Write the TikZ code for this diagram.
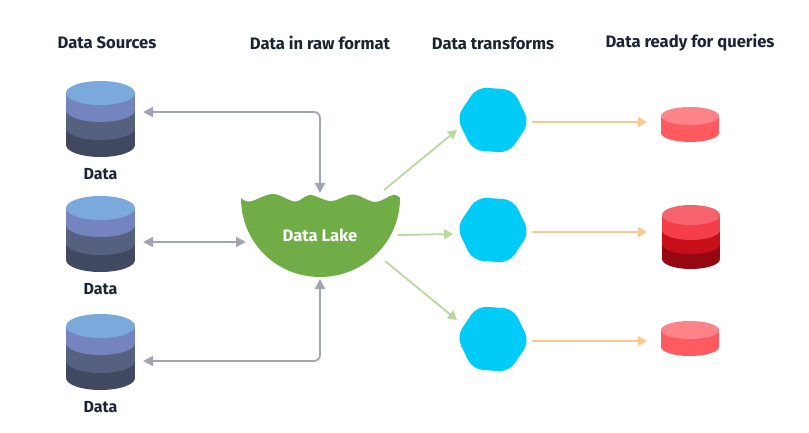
\documentclass[tikz,border=0pt]{standalone}
\usepackage{fontspec}
\setmainfont{Fira Sans}
\usetikzlibrary{arrows.meta,shapes.geometric}
\definecolor{inkdark}{HTML}{1B2433}
\definecolor{blueA}{HTML}{7BA9DB}
\definecolor{blueB}{HTML}{7484BF}
\definecolor{blueC}{HTML}{56617F}
\definecolor{blueD}{HTML}{414960}
\definecolor{lakegreen}{HTML}{70AD47}
\definecolor{hexblue}{HTML}{00CCF7}
\definecolor{redA}{HTML}{F6636C}
\definecolor{redB}{HTML}{F53E4A}
\definecolor{redC}{HTML}{C70F19}
\definecolor{redD}{HTML}{950812}
\definecolor{pinkA}{HTML}{FC8388}
\definecolor{pinkB}{HTML}{FF5A60}
\definecolor{arrowgray}{HTML}{A0A4B3}
\definecolor{arrowgreen}{HTML}{B9D7A0}
\definecolor{arroworange}{HTML}{FCC88F}
\tikzset{
  title/.style={font=\bfseries\fontsize{16.6}{18}\selectfont, text=inkdark},
  dblabel/.style={font=\bfseries\fontsize{16}{18}\selectfont, text=inkdark},
  hexa/.style={regular polygon, regular polygon sides=6, shape border rotate=-4,
    minimum size=73pt, inner sep=0pt, fill=hexblue, rounded corners=10pt},
  grayarrow/.style={draw=arrowgray, line width=1.8pt, rounded corners=6pt,
    {Triangle[length=10pt,width=10pt]}-{Triangle[length=10pt,width=10pt]}},
  greenarrow/.style={draw=arrowgreen, line width=1.8pt, -{Triangle[length=9pt,width=10pt]}},
  orangearrow/.style={draw=arroworange, line width=1.8pt, -{Triangle[length=9pt,width=10pt]}}
}
% one layer: x, top centre y, bottom centre y, rx, ry, colour
\newcommand{\dblayer}[6]{
  \fill[#6] (#1,#3) ellipse [x radius=#4pt, y radius=#5pt];
  \fill[#6] (#1-#4,#2) rectangle (#1+#4,#3);
}
\newcommand{\bluestack}[2]{
  \dblayer{#1}{#2+35}{#2+52}{34.5}{12}{blueD}
  \dblayer{#1}{#2+18}{#2+35}{34.5}{12}{blueC}
  \dblayer{#1}{#2}{#2+17}{34.5}{12}{blueB}
  \fill[blueA] (#1,#2) ellipse [x radius=34.5pt, y radius=12pt];
}
\newcommand{\pinkdisc}[2]{
  \dblayer{#1}{#2}{#2+17}{29}{9}{pinkB}
  \fill[pinkA] (#1,#2) ellipse [x radius=29pt, y radius=9pt];
}
\begin{document}
\begin{tikzpicture}[x=1pt, y=-1pt]
  \useasboundingbox (0,0) rectangle (809,433);

  \node[title] (head1) at (107,43) {Data Sources};
  \node[title] (head2) at (320,43) {Data in raw format};
  \node[title] (head3) at (493,43) {Data transforms};
  \node[title] (head4) at (690,43) {Data ready for queries};

  % sources
  \bluestack{100.5}{93}
  \bluestack{100.5}{208}
  \bluestack{100.5}{326}
  \node[dblabel] (data1) at (100.5,174) {Data};
  \node[dblabel] (data2) at (100.5,289) {Data};
  \node[dblabel] (data3) at (100.5,407) {Data};

  % lake
  \fill[lakegreen] plot[smooth, tension=0.6] coordinates {(241,198) (250,201.5) (273,194) (295,201.5) (310,195) (331,201) (353,194.5) (375,202) (393,195) (400,198)}
    .. controls (400,242) and (364,277) .. (320,277)
    .. controls (276,277) and (241,242) .. (241,198) -- cycle;
  \node[font=\bfseries\fontsize{16.6}{18}\selectfont, text=white] (lake) at (320,235) {Data Lake};

  % transforms
  \node[hexa] (hex1) at (493,120) {};
  \node[hexa] (hex2) at (493,230) {};
  \node[hexa] (hex3) at (493,339) {};

  % results
  \pinkdisc{690}{116}
  \dblayer{691}{244}{259}{29}{10}{redD}
  \dblayer{691}{230}{244}{29}{10}{redC}
  \dblayer{691}{215}{230}{29}{10}{redB}
  \fill[redA] (691,215) ellipse [x radius=29pt, y radius=10pt];
  \pinkdisc{690}{330}

  % arrow ends
  \coordinate (src1) at (143,112);
  \coordinate (src2) at (143,242);
  \coordinate (src3) at (143,361);
  \coordinate (laketop) at (320,193);
  \coordinate (lakeleft) at (246,242);
  \coordinate (lakebot) at (320,279);
  \coordinate (outA) at (384,190);
  \coordinate (outB) at (398,235);
  \coordinate (outC) at (385,261);
  \coordinate (inA) at (457,130);
  \coordinate (inB) at (453,234);
  \coordinate (inC) at (457,320);
  \coordinate (hexout1) at (532,122);
  \coordinate (hexout2) at (532,232);
  \coordinate (hexout3) at (532,341);
  \coordinate (disc1) at (647,122);
  \coordinate (disc2) at (647,232);
  \coordinate (disc3) at (647,341);

  \draw[grayarrow] (src1) -| (laketop);
  \draw[grayarrow] (src2) -- (lakeleft);
  \draw[grayarrow] (src3) -| (lakebot);
  \draw[greenarrow] (outA) -- (inA);
  \draw[greenarrow] (outB) -- (inB);
  \draw[greenarrow] (outC) -- (inC);
  \draw[orangearrow] (hexout1) -- (disc1);
  \draw[orangearrow] (hexout2) -- (disc2);
  \draw[orangearrow] (hexout3) -- (disc3);
\end{tikzpicture}
\end{document}
